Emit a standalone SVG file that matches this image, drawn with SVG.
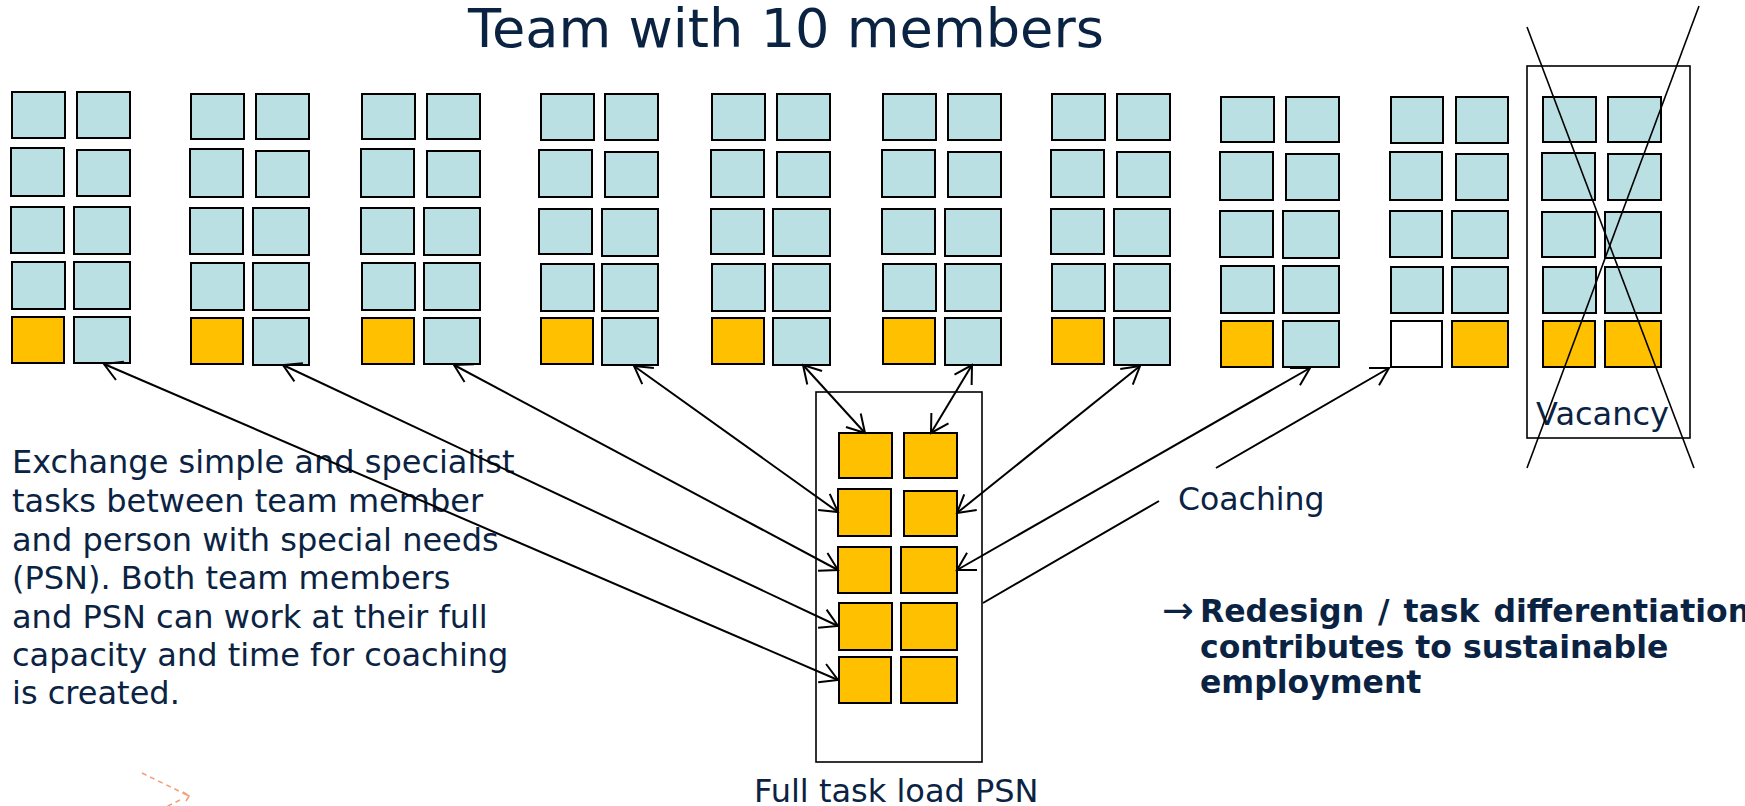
<svg xmlns="http://www.w3.org/2000/svg" width="1745" height="806" viewBox="0 0 1745 806">
<style>
.b{fill:#bbe0e3;stroke:#000;stroke-width:2}
.o{fill:#ffc000;stroke:#000;stroke-width:2}
.w{fill:#fff;stroke:#000;stroke-width:2}
.frame{fill:none;stroke:#000;stroke-width:1.6}
.cross{stroke:#000;stroke-width:1.6;fill:none}
.t{font-family:"DejaVu Sans",Verdana,sans-serif;fill:#0b2343}
.bold{font-weight:bold}
.con{stroke:#000;stroke-width:2;fill:none}
.dash{stroke:#f4a07c;stroke-width:1.6;fill:none;stroke-dasharray:5 4}
</style>
<defs>
<marker id="arr" viewBox="-20 -12 22 24" refX="0" refY="0" markerWidth="22" markerHeight="24" markerUnits="userSpaceOnUse" orient="auto-start-reverse">
<path d="M-17.3,-10 L0,0 L-17.3,10" fill="none" stroke="#000" stroke-width="2"/>
</marker>
</defs>
<rect width="1745" height="806" fill="#fff"/>

<text class="t" x="468" y="47" font-size="54.2">Team with 10 members</text>

<g id="member-1">
<rect class="b" x="12" y="92" width="53" height="46"/>
<rect class="b" x="77" y="92" width="53" height="46"/>
<rect class="b" x="11" y="148" width="53" height="48"/>
<rect class="b" x="77" y="150" width="53" height="46"/>
<rect class="b" x="11" y="207" width="53" height="46"/>
<rect class="b" x="74" y="207" width="56" height="47"/>
<rect class="b" x="12" y="262" width="53" height="47"/>
<rect class="b" x="74" y="262" width="56" height="47"/>
<rect class="o" x="12" y="317" width="52" height="46"/>
<rect class="b" x="74" y="317" width="56" height="46"/>
</g>
<g id="member-2">
<rect class="b" x="191" y="94" width="53" height="45"/>
<rect class="b" x="256" y="94" width="53" height="45"/>
<rect class="b" x="190" y="149" width="53" height="48"/>
<rect class="b" x="256" y="151" width="53" height="46"/>
<rect class="b" x="190" y="208" width="53" height="46"/>
<rect class="b" x="253" y="208" width="56" height="47"/>
<rect class="b" x="191" y="263" width="53" height="47"/>
<rect class="b" x="253" y="263" width="56" height="47"/>
<rect class="o" x="191" y="318" width="52" height="46"/>
<rect class="b" x="253" y="318" width="56" height="47"/>
</g>
<g id="member-3">
<rect class="b" x="362" y="94" width="53" height="45"/>
<rect class="b" x="427" y="94" width="53" height="45"/>
<rect class="b" x="361" y="149" width="53" height="48"/>
<rect class="b" x="427" y="151" width="53" height="46"/>
<rect class="b" x="361" y="208" width="53" height="46"/>
<rect class="b" x="424" y="208" width="56" height="47"/>
<rect class="b" x="362" y="263" width="53" height="47"/>
<rect class="b" x="424" y="263" width="56" height="47"/>
<rect class="o" x="362" y="318" width="52" height="46"/>
<rect class="b" x="424" y="318" width="56" height="46"/>
</g>
<g id="member-4">
<rect class="b" x="541" y="94" width="53" height="46"/>
<rect class="b" x="605" y="94" width="53" height="46"/>
<rect class="b" x="539" y="150" width="53" height="47"/>
<rect class="b" x="605" y="152" width="53" height="45"/>
<rect class="b" x="539" y="209" width="53" height="45"/>
<rect class="b" x="602" y="209" width="56" height="47"/>
<rect class="b" x="541" y="264" width="53" height="47"/>
<rect class="b" x="602" y="264" width="56" height="47"/>
<rect class="o" x="541" y="318" width="52" height="46"/>
<rect class="b" x="602" y="318" width="56" height="47"/>
</g>
<g id="member-5">
<rect class="b" x="712" y="94" width="53" height="46"/>
<rect class="b" x="777" y="94" width="53" height="46"/>
<rect class="b" x="711" y="150" width="53" height="47"/>
<rect class="b" x="777" y="152" width="53" height="45"/>
<rect class="b" x="711" y="209" width="53" height="45"/>
<rect class="b" x="773" y="209" width="57" height="47"/>
<rect class="b" x="712" y="264" width="53" height="47"/>
<rect class="b" x="773" y="264" width="57" height="47"/>
<rect class="o" x="712" y="318" width="52" height="46"/>
<rect class="b" x="773" y="318" width="57" height="47"/>
</g>
<g id="member-6">
<rect class="b" x="883" y="94" width="53" height="46"/>
<rect class="b" x="948" y="94" width="53" height="46"/>
<rect class="b" x="882" y="150" width="53" height="47"/>
<rect class="b" x="948" y="152" width="53" height="45"/>
<rect class="b" x="882" y="209" width="53" height="45"/>
<rect class="b" x="945" y="209" width="56" height="47"/>
<rect class="b" x="883" y="264" width="53" height="47"/>
<rect class="b" x="945" y="264" width="56" height="47"/>
<rect class="o" x="883" y="318" width="52" height="46"/>
<rect class="b" x="945" y="318" width="56" height="47"/>
</g>
<g id="member-7">
<rect class="b" x="1052" y="94" width="53" height="46"/>
<rect class="b" x="1117" y="94" width="53" height="46"/>
<rect class="b" x="1051" y="150" width="53" height="47"/>
<rect class="b" x="1117" y="152" width="53" height="45"/>
<rect class="b" x="1051" y="209" width="53" height="45"/>
<rect class="b" x="1114" y="209" width="56" height="47"/>
<rect class="b" x="1052" y="264" width="53" height="47"/>
<rect class="b" x="1114" y="264" width="56" height="47"/>
<rect class="o" x="1052" y="318" width="52" height="46"/>
<rect class="b" x="1114" y="318" width="56" height="47"/>
</g>
<g id="member-8">
<rect class="b" x="1221" y="97" width="53" height="45"/>
<rect class="b" x="1286" y="97" width="53" height="45"/>
<rect class="b" x="1220" y="152" width="53" height="48"/>
<rect class="b" x="1286" y="154" width="53" height="46"/>
<rect class="b" x="1220" y="211" width="53" height="46"/>
<rect class="b" x="1283" y="211" width="56" height="47"/>
<rect class="b" x="1221" y="266" width="53" height="47"/>
<rect class="b" x="1283" y="266" width="56" height="47"/>
<rect class="o" x="1221" y="321" width="52" height="46"/>
<rect class="b" x="1283" y="321" width="56" height="46"/>
</g>
<g id="member-9">
<rect class="b" x="1391" y="97" width="52" height="46"/>
<rect class="b" x="1456" y="97" width="52" height="46"/>
<rect class="b" x="1390" y="152" width="52" height="48"/>
<rect class="b" x="1456" y="154" width="52" height="46"/>
<rect class="b" x="1390" y="211" width="52" height="46"/>
<rect class="b" x="1452" y="211" width="56" height="47"/>
<rect class="b" x="1391" y="267" width="52" height="46"/>
<rect class="b" x="1452" y="267" width="56" height="46"/>
<rect class="w" x="1391" y="321" width="51" height="46"/>
<rect class="o" x="1452" y="321" width="56" height="46"/>
</g>
<g id="vacancy">
<rect class="frame" x="1527" y="66" width="163" height="372"/>
<rect class="b" x="1543" y="97" width="53" height="45"/>
<rect class="b" x="1608" y="97" width="53" height="45"/>
<rect class="b" x="1542" y="153" width="53" height="47"/>
<rect class="b" x="1608" y="154" width="53" height="46"/>
<rect class="b" x="1542" y="212" width="53" height="45"/>
<rect class="b" x="1605" y="212" width="56" height="46"/>
<rect class="b" x="1543" y="267" width="53" height="46"/>
<rect class="b" x="1605" y="267" width="56" height="46"/>
<rect class="o" x="1543" y="321" width="52" height="46"/>
<rect class="o" x="1605" y="321" width="56" height="46"/>
<text class="t" x="1536" y="425" font-size="32">Vacancy</text>
<line class="cross" x1="1527" y1="27" x2="1694" y2="468"/>
<line class="cross" x1="1699" y1="6" x2="1527" y2="468"/>
</g>

<g id="psn">
<rect class="frame" x="816" y="392" width="166" height="370"/>
<rect class="o" x="839" y="433" width="53" height="45"/>
<rect class="o" x="904" y="433" width="53" height="45"/>
<rect class="o" x="838" y="489" width="53" height="47"/>
<rect class="o" x="904" y="491" width="53" height="45"/>
<rect class="o" x="838" y="547" width="53" height="46"/>
<rect class="o" x="901" y="547" width="56" height="46"/>
<rect class="o" x="839" y="603" width="53" height="47"/>
<rect class="o" x="901" y="603" width="56" height="47"/>
<rect class="o" x="839" y="657" width="52" height="46"/>
<rect class="o" x="901" y="657" width="56" height="46"/>
<text class="t" x="754" y="802" font-size="32">Full task load PSN</text>
</g>

<g id="description">
<text class="t" font-size="32">
<tspan x="12" y="473">Exchange simple and specialist</tspan>
<tspan x="12" y="512">tasks between team member</tspan>
<tspan x="12" y="551">and person with special needs</tspan>
<tspan x="12" y="589">(PSN). Both team members</tspan>
<tspan x="12" y="628">and PSN can work at their full</tspan>
<tspan x="12" y="666">capacity and time for coaching</tspan>
<tspan x="12" y="704">is created.</tspan>
</text>
</g>

<g id="coaching-label">
<text class="t" x="1178" y="510" font-size="31.5">Coaching</text>
</g>

<g id="conclusion">
<text class="t" x="1162" y="623" font-size="38">→</text>
<text class="t bold" font-size="31.5">
<tspan x="1200" y="622" word-spacing="3">Redesign / task differentiation</tspan>
<tspan x="1200" y="658">contributes to sustainable</tspan>
<tspan x="1200" y="693">employment</tspan>
</text>
</g>

<g id="connectors">
<line class="con" x1="104" y1="364" x2="838" y2="680" marker-start="url(#arr)" marker-end="url(#arr)"/>
<line class="con" x1="283" y1="365" x2="838" y2="626" marker-start="url(#arr)" marker-end="url(#arr)"/>
<line class="con" x1="454" y1="365" x2="838" y2="570" marker-start="url(#arr)" marker-end="url(#arr)"/>
<line class="con" x1="634" y1="366" x2="838" y2="512" marker-start="url(#arr)" marker-end="url(#arr)"/>
<line class="con" x1="803" y1="365" x2="865" y2="433" marker-start="url(#arr)" marker-end="url(#arr)"/>
<line class="con" x1="972" y1="365" x2="931" y2="433" marker-start="url(#arr)" marker-end="url(#arr)"/>
<line class="con" x1="1140" y1="366" x2="957" y2="513" marker-start="url(#arr)" marker-end="url(#arr)"/>
<line class="con" x1="1310" y1="368" x2="957" y2="570" marker-start="url(#arr)" marker-end="url(#arr)"/>
<path class="con" d="M1389,368 L1216,468 M1159,501 L983,603" marker-start="url(#arr)"/>
<path class="dash" d="M142,773 L189,796 M180,800 L166,807"/>
<path d="M183,792 L189,796 L186,801" fill="none" stroke="#f4a07c" stroke-width="1.6"/>
</g>
</svg>
